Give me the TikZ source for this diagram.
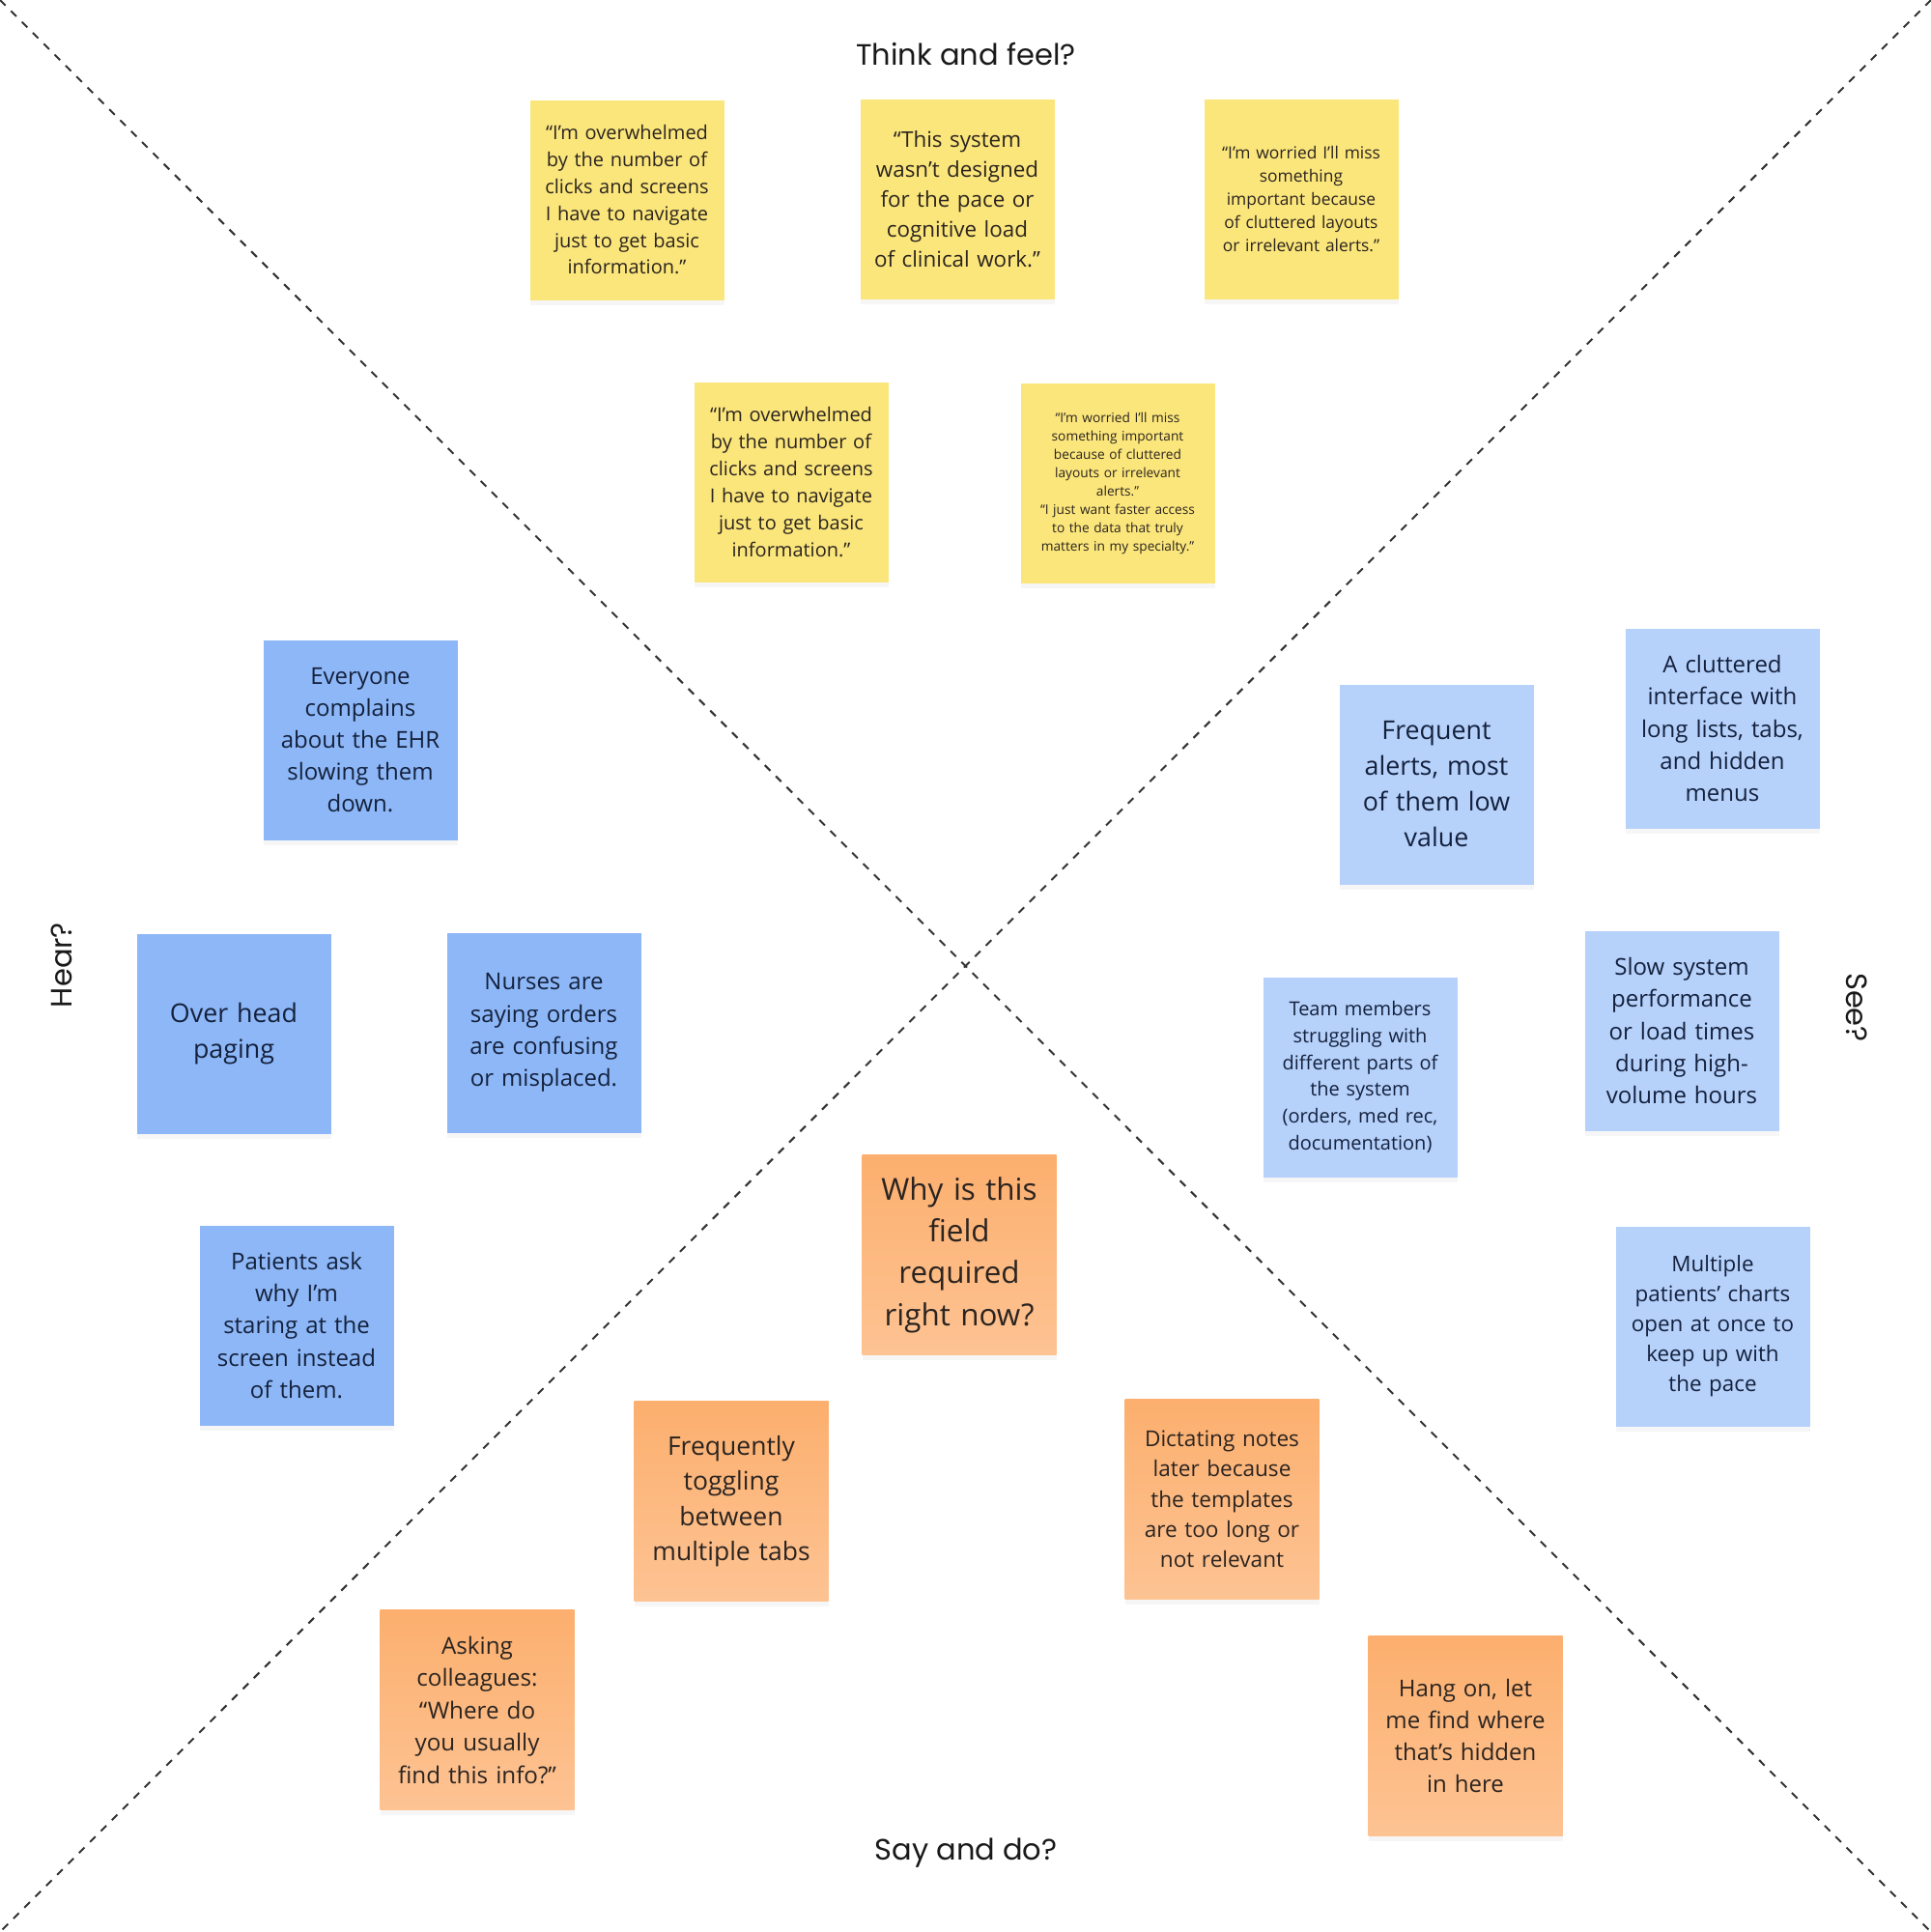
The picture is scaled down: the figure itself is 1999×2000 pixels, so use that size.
\documentclass[tikz,border=0pt]{standalone}
\usepackage{fontspec}
\setmainfont{Open Sans}
\newfontfamily\headfont{Poppins}
\usepackage{xcolor}
\usetikzlibrary{shadows}

\definecolor{thinkyellow}{HTML}{FBE67B}
\definecolor{hearblue}{HTML}{8DB7F6}
\definecolor{seeblue}{HTML}{B6D1FA}
\definecolor{dotop}{HTML}{FCAF6E}
\definecolor{dobottom}{HTML}{FDC393}
\definecolor{bluetext}{HTML}{14213D}
\definecolor{warmtext}{HTML}{2B2420}
\definecolor{crossline}{HTML}{333333}

\newcommand\notesize[2]{\fontsize{#1pt}{#2pt}\selectfont}

\begin{document}
\begin{tikzpicture}[x=1pt,y=-1pt,
    sticky/.style={minimum width=201pt, minimum height=207pt, inner sep=0pt,
      text width=188pt, align=center,
      drop shadow={opacity=0.07, shadow xshift=0pt, shadow yshift=-5pt}},
    thinknote/.style={sticky, fill=thinkyellow, text=warmtext},
    hearnote/.style={sticky, fill=hearblue, text=bluetext},
    seenote/.style={sticky, fill=seeblue, text=bluetext},
    donote/.style={sticky, top color=dotop, bottom color=dobottom, text=warmtext},
    quarter/.style={font=\headfont\fontsize{30.5pt}{36pt}\selectfont, text=black!90}]
    \useasboundingbox (0,0) rectangle (1999,2000);

    % the two diagonals
    \coordinate (nw) at (0,0);
    \coordinate (ne) at (1999,0);
    \coordinate (sw) at (0,2000);
    \coordinate (se) at (1999,2000);
    \draw[crossline, line width=2pt, dash pattern=on 8pt off 8pt] (nw) -- (se);
    \draw[crossline, line width=2pt, dash pattern=on 8pt off 8pt] (ne) -- (sw);

    % quarter titles
    \node[quarter] (think) at (1000,56) {Think and feel?};
    \node[quarter] (say) at (1000,1918) {Say and do?};
    \node[quarter, rotate=90] (hear) at (64,999) {Hear?};
    \node[quarter, rotate=-90] (see) at (1922,1043) {See?};

    % think and feel
    \node[thinknote, font=\notesize{20}{27.8}] (t1) at (649,207)
      {“I’m overwhelmed\\by the number of\\clicks and screens\\I have to navigate\\just to get basic\\information.”};
    \node[thinknote, font=\notesize{22.4}{30.9}] (t2) at (991,206)
      {“This system\\wasn’t designed\\for the pace or\\cognitive load\\of clinical work.”};
    \node[thinknote, font=\notesize{17.4}{24.2}] (t3) at (1347,206)
      {“I’m worried I’ll miss\\something\\important because\\of cluttered layouts\\or irrelevant alerts.”};
    \node[thinknote, font=\notesize{20}{28}] (t4) at (819,499)
      {“I’m overwhelmed\\by the number of\\clicks and screens\\I have to navigate\\just to get basic\\information.”};
    \node[thinknote, font=\notesize{13.7}{19}] (t5) at (1157,500)
      {“I’m worried I’ll miss\\something important\\because of cluttered\\layouts or irrelevant\\alerts.”\\“I just want faster access\\to the data that truly\\matters in my specialty.”};

    % hear
    \node[hearnote, font=\notesize{24}{33.2}] (h1) at (373,766)
      {Everyone\\complains\\about the EHR\\slowing them\\down.};
    \node[hearnote, font=\notesize{26.8}{37}] (h2) at (242,1070)
      {Over head\\paging};
    \node[hearnote, font=\notesize{24}{33.2}] (h3) at (563,1069)
      {Nurses are\\saying orders\\are confusing\\or misplaced.};
    \node[hearnote, font=\notesize{24}{33.4}] (h4) at (307,1372)
      {Patients ask\\why I’m\\staring at the\\screen instead\\of them.};

    % see
    \node[seenote, font=\notesize{26.8}{37}] (s1) at (1487,812)
      {Frequent\\alerts, most\\of them low\\value};
    \node[seenote, font=\notesize{24}{33.2}] (s2) at (1783,754)
      {A cluttered\\interface with\\long lists, tabs,\\and hidden\\menus};
    \node[seenote, font=\notesize{20}{27.8}] (s3) at (1408,1115)
      {Team members\\struggling with\\different parts of\\the system\\(orders, med rec,\\documentation)};
    \node[seenote, font=\notesize{24}{33.4}] (s4) at (1741,1067)
      {Slow system\\performance\\or load times\\during high-\\volume hours};
    \node[seenote, font=\notesize{22.4}{31}] (s5) at (1773,1373)
      {Multiple\\patients’ charts\\open at once to\\keep up with\\the pace};

    % say and do
    \node[donote, font=\notesize{31.4}{43.4}] (d1) at (993,1299)
      {Why is this\\field\\required\\right now?};
    \node[donote, font=\notesize{26.5}{36.6}] (d2) at (757,1554)
      {Frequently\\toggling\\between\\multiple tabs};
    \node[donote, font=\notesize{22.6}{31.3}] (d3) at (1265,1552)
      {Dictating notes\\later because\\the templates\\are too long or\\not relevant};
    \node[donote, font=\notesize{24.2}{33.5}] (d4) at (494,1770)
      {Asking\\colleagues:\\“Where do\\you usually\\find this info?”};
    \node[donote, font=\notesize{24}{33.2}] (d5) at (1517,1797)
      {Hang on, let\\me find where\\that’s hidden\\in here};
\end{tikzpicture}
\end{document}
